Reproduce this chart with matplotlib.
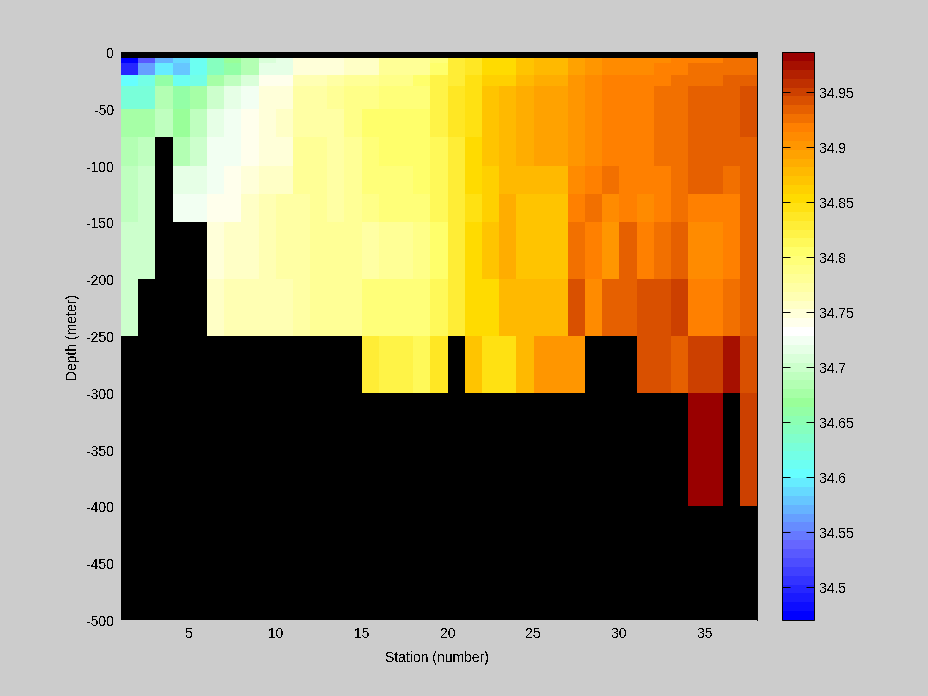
"""Salinity section: station against depth, drawn with pcolormesh."""

import matplotlib
matplotlib.use("Agg")
import matplotlib.pyplot as plt
import numpy as np
from matplotlib.colors import LinearSegmentedColormap

nan = np.nan

stations = list(range(1, 39))
depth_edges = [0, -5, -10, -20, -30, -50, -75, -100, -125, -150, -200, -250, -300, -400, -500]

# one list per depth layer, left to right, NaN where there is no sample
layer_0_5 = [nan] * 37
layer_5_10 = [34.474, 34.530, 34.571, 34.587, 34.611, 34.643, 34.668, 34.684, 34.708, 34.716, 34.748, 34.748, 34.748, 34.756, 34.756, 34.780, 34.780, 34.780, 34.797, 34.829, 34.837, 34.853, 34.853, 34.869, 34.877, 34.877, 34.893, 34.901, 34.909, 34.909, 34.909, 34.909, 34.917, 34.917, 34.917, 34.926, 34.926]
layer_10_20 = [34.498, 34.563, 34.595, 34.579, 34.611, 34.643, 34.659, 34.684, 34.716, 34.716, 34.748, 34.748, 34.748, 34.756, 34.756, 34.780, 34.780, 34.780, 34.805, 34.829, 34.837, 34.853, 34.853, 34.869, 34.877, 34.877, 34.893, 34.901, 34.909, 34.909, 34.909, 34.917, 34.917, 34.926, 34.926, 34.926, 34.926]
layer_20_30 = [34.603, 34.619, 34.659, 34.611, 34.619, 34.676, 34.692, 34.708, 34.740, 34.740, 34.764, 34.764, 34.772, 34.780, 34.780, 34.788, 34.788, 34.805, 34.821, 34.829, 34.845, 34.861, 34.861, 34.877, 34.885, 34.885, 34.901, 34.909, 34.917, 34.917, 34.917, 34.917, 34.926, 34.926, 34.926, 34.934, 34.934]
layer_30_50 = [34.627, 34.627, 34.684, 34.659, 34.676, 34.700, 34.716, 34.724, 34.748, 34.748, 34.772, 34.772, 34.780, 34.788, 34.788, 34.797, 34.797, 34.797, 34.821, 34.837, 34.845, 34.869, 34.877, 34.885, 34.893, 34.893, 34.901, 34.909, 34.917, 34.917, 34.917, 34.926, 34.926, 34.934, 34.934, 34.934, 34.942]
layer_50_75 = [34.676, 34.676, 34.692, 34.668, 34.692, 34.716, 34.724, 34.740, 34.748, 34.756, 34.772, 34.772, 34.772, 34.788, 34.805, 34.805, 34.805, 34.805, 34.821, 34.837, 34.845, 34.869, 34.877, 34.885, 34.893, 34.893, 34.901, 34.909, 34.917, 34.917, 34.917, 34.926, 34.926, 34.934, 34.934, 34.934, 34.942]
layer_75_100 = [34.684, 34.692, nan, 34.684, 34.700, 34.724, 34.724, 34.740, 34.748, 34.748, 34.780, 34.780, 34.772, 34.780, 34.797, 34.805, 34.805, 34.805, 34.813, 34.829, 34.853, 34.869, 34.877, 34.885, 34.893, 34.893, 34.901, 34.909, 34.917, 34.917, 34.917, 34.926, 34.926, 34.934, 34.934, 34.934, 34.934]
layer_100_125 = [34.692, 34.700, nan, 34.716, 34.716, 34.724, 34.740, 34.748, 34.756, 34.756, 34.780, 34.780, 34.772, 34.780, 34.797, 34.797, 34.797, 34.805, 34.813, 34.829, 34.853, 34.861, 34.877, 34.877, 34.877, 34.877, 34.909, 34.917, 34.926, 34.917, 34.917, 34.917, 34.926, 34.934, 34.934, 34.926, 34.934]
layer_125_150 = [34.692, 34.700, nan, 34.724, 34.724, 34.740, 34.740, 34.756, 34.764, 34.772, 34.772, 34.780, 34.772, 34.780, 34.788, 34.797, 34.797, 34.797, 34.813, 34.829, 34.845, 34.861, 34.885, 34.869, 34.869, 34.869, 34.917, 34.926, 34.909, 34.917, 34.909, 34.917, 34.926, 34.917, 34.917, 34.917, 34.934]
layer_150_200 = [34.700, 34.700, nan, nan, nan, 34.748, 34.756, 34.756, 34.764, 34.772, 34.772, 34.780, 34.780, 34.780, 34.772, 34.780, 34.780, 34.788, 34.805, 34.829, 34.853, 34.869, 34.885, 34.869, 34.869, 34.869, 34.926, 34.917, 34.901, 34.934, 34.917, 34.926, 34.934, 34.909, 34.909, 34.917, 34.934]
layer_200_250 = [34.700, nan, nan, nan, nan, 34.756, 34.764, 34.764, 34.764, 34.764, 34.772, 34.780, 34.780, 34.780, 34.797, 34.797, 34.797, 34.797, 34.813, 34.829, 34.853, 34.853, 34.877, 34.877, 34.877, 34.877, 34.942, 34.909, 34.934, 34.934, 34.942, 34.942, 34.950, 34.917, 34.917, 34.926, 34.934]
layer_250_300 = [nan] * 14 + [34.829, 34.821, 34.821, 34.813, 34.837, nan, 34.869, 34.845, 34.845, 34.877, 34.901, 34.901, 34.901, nan, nan, nan, 34.942, 34.942, 34.934, 34.950, 34.950, 34.974, 34.942]
layer_300_400 = [nan] * 33 + [34.982, 34.982, nan, 34.950]
layer_400_500 = [nan] * 37

salinity = np.array([layer_0_5, layer_5_10, layer_10_20, layer_20_30, layer_30_50,
                     layer_50_75, layer_75_100, layer_100_125, layer_125_150,
                     layer_150_200, layer_200_250, layer_250_300, layer_300_400,
                     layer_400_500])

color_min = 34.470
color_max = 34.986
colorbar_ticks = [34.5, 34.55, 34.6, 34.65, 34.7, 34.75, 34.8, 34.85, 34.9, 34.95]
colorbar_labels = ["34.5", "34.55", "34.6", "34.65", "34.7", "34.75", "34.8", "34.85", "34.9", "34.95"]

# blue - cyan - green - white - yellow - orange - dark red, 64 steps
anchors = [
    (0 / 63, (0.0, 0.0, 1.0)),
    (8 / 63, (0.4, 0.4, 1.0)),
    (16 / 63, (0.4, 1.0, 1.0)),
    (24 / 63, (0.6, 1.0, 0.6)),
    (32 / 63, (1.0, 1.0, 1.0)),
    (36 / 63, (1.0, 1.0, 0.7)),
    (41 / 63, (1.0, 1.0, 0.42)),
    (47 / 63, (1.0, 0.86, 0.0)),
    (55 / 63, (1.0, 0.5, 0.0)),
    (63 / 63, (0.6, 0.0, 0.0)),
]
salt_cmap = LinearSegmentedColormap.from_list("salt", anchors, N=64)

plt.rcParams["font.family"] = ["Liberation Sans", "DejaVu Sans"]
plt.rcParams["font.size"] = 10
plt.rcParams["text.antialiased"] = False
plt.rcParams["axes.unicode_minus"] = False

fig = plt.figure(figsize=(9.285, 6.965), dpi=100, facecolor="#cccccc")
W, H = 928.5, 696.5

ax = fig.add_axes([121 / W, 1 - 620.5 / H, 636 / W, 568 / H], facecolor="black")
mesh = ax.pcolormesh(stations, depth_edges, np.ma.masked_invalid(salinity),
                     cmap=salt_cmap, vmin=color_min, vmax=color_max, shading="flat")
ax.set_xlim(1, 38)
ax.set_ylim(-500, 0)
ax.set_xticks(range(5, 36, 5))
ax.set_yticks(range(-500, 1, 50))
ax.tick_params(length=0, pad=5)
ax.spines["left"].set_visible(False)
ax.spines["bottom"].set_visible(False)
ax.spines["top"].set_linewidth(0.7)
ax.spines["right"].set_linewidth(0.7)
ax.set_xlabel("Station (number)")
ax.set_ylabel("Depth (meter)")
ax.xaxis.set_label_coords(0.4968, -0.053)
ax.yaxis.set_label_coords(-0.0645, 0.4985)

cax = fig.add_axes([782 / W, 1 - 620.5 / H, 32 / W, 568 / H])
cbar = fig.colorbar(mesh, cax=cax, ticks=colorbar_ticks)
cbar.ax.set_yticklabels(colorbar_labels)
cbar.outline.set_linewidth(0.7)
cbar.ax.tick_params(direction="in", left=True, right=True, length=6, width=0.7, pad=4)

fig.savefig("out.png", dpi=100, facecolor=fig.get_facecolor())
